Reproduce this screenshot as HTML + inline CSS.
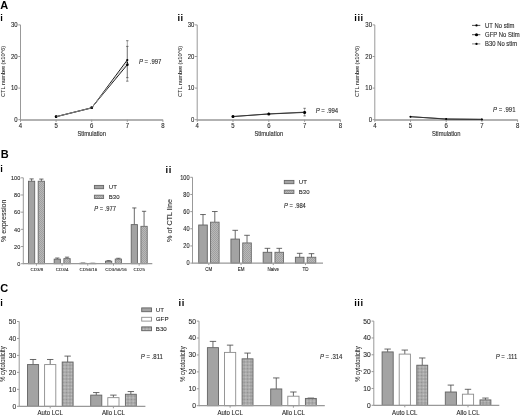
<!DOCTYPE html>
<html><head><meta charset="utf-8"><style>
html,body{margin:0;padding:0;background:#fff;}
svg{display:block;font-family:"Liberation Sans", sans-serif;will-change:transform;}
</style></head><body>
<svg width="520" height="416" viewBox="0 0 520 416">
<rect width="520" height="416" fill="#fff"/>
<g>
<defs>
<pattern id="hB" patternUnits="userSpaceOnUse" width="2" height="2"><rect width="2" height="2" fill="#b8b8b8"/><rect width="1" height="1" fill="#a0a0a0"/><rect x="1" y="1" width="1" height="1" fill="#a0a0a0"/></pattern>
<pattern id="hC" patternUnits="userSpaceOnUse" width="2" height="2" patternTransform="rotate(45)"><rect width="2" height="2" fill="#c6c6c6"/><rect width="1" height="1" fill="#8e8e8e"/><rect x="1" y="1" width="1" height="1" fill="#8e8e8e"/></pattern>
</defs>
<text font-size="11" text-anchor="start" font-weight="bold" fill="#000" transform="translate(0.30 8.90) scale(1 1.0)">A</text>
<text font-size="11" text-anchor="start" font-weight="bold" fill="#000" transform="translate(0.80 158.40) scale(1 1.0)">B</text>
<text font-size="11" text-anchor="start" font-weight="bold" fill="#000" transform="translate(0.20 292.40) scale(1 1.0)">C</text>
<text font-size="9.3" text-anchor="start" font-weight="bold" letter-spacing="0.55" fill="#000" transform="translate(0.30 20.60) scale(1 1.0)">i</text>
<line x1="20.50" y1="120.20" x2="20.50" y2="24.90" stroke="#999" stroke-width="1"/>
<line x1="20.50" y1="120.00" x2="162.90" y2="120.00" stroke="#999" stroke-width="1.4"/>
<line x1="18.30" y1="119.70" x2="20.50" y2="119.70" stroke="#999" stroke-width="1"/>
<text font-size="6.0" text-anchor="end" fill="#2a2a2a" stroke="#2a2a2a" stroke-width="0.1" transform="translate(17.70 121.80) scale(1 1.12)">0</text>
<line x1="18.30" y1="88.10" x2="20.50" y2="88.10" stroke="#999" stroke-width="1"/>
<text font-size="6.0" text-anchor="end" fill="#2a2a2a" stroke="#2a2a2a" stroke-width="0.1" transform="translate(17.70 90.20) scale(1 1.12)">10</text>
<line x1="18.30" y1="56.50" x2="20.50" y2="56.50" stroke="#999" stroke-width="1"/>
<text font-size="6.0" text-anchor="end" fill="#2a2a2a" stroke="#2a2a2a" stroke-width="0.1" transform="translate(17.70 58.60) scale(1 1.12)">20</text>
<line x1="18.30" y1="24.90" x2="20.50" y2="24.90" stroke="#999" stroke-width="1"/>
<text font-size="6.0" text-anchor="end" fill="#2a2a2a" stroke="#2a2a2a" stroke-width="0.1" transform="translate(17.70 27.00) scale(1 1.12)">30</text>
<line x1="20.50" y1="119.70" x2="20.50" y2="121.90" stroke="#999" stroke-width="1"/>
<text font-size="6.0" text-anchor="middle" fill="#2a2a2a" stroke="#2a2a2a" stroke-width="0.1" transform="translate(20.50 127.70) scale(1 1.12)">4</text>
<line x1="56.10" y1="119.70" x2="56.10" y2="121.90" stroke="#999" stroke-width="1"/>
<text font-size="6.0" text-anchor="middle" fill="#2a2a2a" stroke="#2a2a2a" stroke-width="0.1" transform="translate(56.10 127.70) scale(1 1.12)">5</text>
<line x1="91.70" y1="119.70" x2="91.70" y2="121.90" stroke="#999" stroke-width="1"/>
<text font-size="6.0" text-anchor="middle" fill="#2a2a2a" stroke="#2a2a2a" stroke-width="0.1" transform="translate(91.70 127.70) scale(1 1.12)">6</text>
<line x1="127.30" y1="119.70" x2="127.30" y2="121.90" stroke="#999" stroke-width="1"/>
<text font-size="6.0" text-anchor="middle" fill="#2a2a2a" stroke="#2a2a2a" stroke-width="0.1" transform="translate(127.30 127.70) scale(1 1.12)">7</text>
<line x1="162.90" y1="119.70" x2="162.90" y2="121.90" stroke="#999" stroke-width="1"/>
<text font-size="6.0" text-anchor="middle" fill="#2a2a2a" stroke="#2a2a2a" stroke-width="0.1" transform="translate(162.90 127.70) scale(1 1.12)">8</text>
<text font-size="5.8" text-anchor="middle" fill="#2a2a2a" stroke="#2a2a2a" stroke-width="0.1" transform="translate(91.70 136.40) scale(1 1.12)">Stimulation</text>
<text font-size="6.1" text-anchor="middle" fill="#2a2a2a" stroke="#2a2a2a" stroke-width="0.06" transform="translate(5.20 71.40) rotate(-90) scale(0.92 1)">CTL number (x10^6)</text>
<line x1="127.30" y1="40.70" x2="127.30" y2="81.15" stroke="#666" stroke-width="0.6"/>
<line x1="126.10" y1="40.70" x2="128.50" y2="40.70" stroke="#444" stroke-width="0.7"/>
<line x1="126.10" y1="81.15" x2="128.50" y2="81.15" stroke="#444" stroke-width="0.7"/>
<line x1="127.30" y1="46.39" x2="127.30" y2="77.67" stroke="#666" stroke-width="0.6"/>
<line x1="126.10" y1="46.39" x2="128.50" y2="46.39" stroke="#444" stroke-width="0.7"/>
<line x1="126.10" y1="77.67" x2="128.50" y2="77.67" stroke="#444" stroke-width="0.7"/>
<polyline points="56.10,116.70 91.70,107.69 127.30,64.72" fill="none" stroke="#000" stroke-width="0.9"/>
<circle cx="56.10" cy="116.70" r="1.4" fill="#000"/>
<circle cx="91.70" cy="107.69" r="1.4" fill="#000"/>
<circle cx="127.30" cy="64.72" r="1.4" fill="#000"/>
<polyline points="56.10,116.70 91.70,108.01 127.30,59.98" fill="none" stroke="#000" stroke-width="0.9"/>
<circle cx="56.10" cy="116.70" r="1.1" fill="#000"/>
<circle cx="91.70" cy="108.01" r="1.1" fill="#000"/>
<circle cx="127.30" cy="59.98" r="1.1" fill="#000"/>
<polyline points="56.10,116.70 91.70,107.85 127.30,62.50" fill="none" stroke="#bbb" stroke-width="0.7"/>
<circle cx="56.10" cy="116.70" r="0.7" fill="#000"/>
<circle cx="91.70" cy="107.85" r="0.7" fill="#000"/>
<circle cx="127.30" cy="62.50" r="0.7" fill="#000"/>
<text transform="translate(138.90 64.00) scale(1 1.15)" font-size="6.0" fill="#2a2a2a" stroke="#2a2a2a" stroke-width="0.1"><tspan font-style="italic">P</tspan> = .997</text>
<text font-size="9.3" text-anchor="start" font-weight="bold" letter-spacing="0.55" fill="#000" transform="translate(177.40 20.60) scale(1 1.0)">ii</text>
<line x1="197.20" y1="120.20" x2="197.20" y2="24.90" stroke="#999" stroke-width="1"/>
<line x1="197.20" y1="120.00" x2="340.40" y2="120.00" stroke="#999" stroke-width="1.4"/>
<line x1="195.00" y1="119.70" x2="197.20" y2="119.70" stroke="#999" stroke-width="1"/>
<text font-size="6.0" text-anchor="end" fill="#2a2a2a" stroke="#2a2a2a" stroke-width="0.1" transform="translate(194.40 121.80) scale(1 1.12)">0</text>
<line x1="195.00" y1="88.10" x2="197.20" y2="88.10" stroke="#999" stroke-width="1"/>
<text font-size="6.0" text-anchor="end" fill="#2a2a2a" stroke="#2a2a2a" stroke-width="0.1" transform="translate(194.40 90.20) scale(1 1.12)">10</text>
<line x1="195.00" y1="56.50" x2="197.20" y2="56.50" stroke="#999" stroke-width="1"/>
<text font-size="6.0" text-anchor="end" fill="#2a2a2a" stroke="#2a2a2a" stroke-width="0.1" transform="translate(194.40 58.60) scale(1 1.12)">20</text>
<line x1="195.00" y1="24.90" x2="197.20" y2="24.90" stroke="#999" stroke-width="1"/>
<text font-size="6.0" text-anchor="end" fill="#2a2a2a" stroke="#2a2a2a" stroke-width="0.1" transform="translate(194.40 27.00) scale(1 1.12)">30</text>
<line x1="197.20" y1="119.70" x2="197.20" y2="121.90" stroke="#999" stroke-width="1"/>
<text font-size="6.0" text-anchor="middle" fill="#2a2a2a" stroke="#2a2a2a" stroke-width="0.1" transform="translate(197.20 127.70) scale(1 1.12)">4</text>
<line x1="233.00" y1="119.70" x2="233.00" y2="121.90" stroke="#999" stroke-width="1"/>
<text font-size="6.0" text-anchor="middle" fill="#2a2a2a" stroke="#2a2a2a" stroke-width="0.1" transform="translate(233.00 127.70) scale(1 1.12)">5</text>
<line x1="268.80" y1="119.70" x2="268.80" y2="121.90" stroke="#999" stroke-width="1"/>
<text font-size="6.0" text-anchor="middle" fill="#2a2a2a" stroke="#2a2a2a" stroke-width="0.1" transform="translate(268.80 127.70) scale(1 1.12)">6</text>
<line x1="304.60" y1="119.70" x2="304.60" y2="121.90" stroke="#999" stroke-width="1"/>
<text font-size="6.0" text-anchor="middle" fill="#2a2a2a" stroke="#2a2a2a" stroke-width="0.1" transform="translate(304.60 127.70) scale(1 1.12)">7</text>
<line x1="340.40" y1="119.70" x2="340.40" y2="121.90" stroke="#999" stroke-width="1"/>
<text font-size="6.0" text-anchor="middle" fill="#2a2a2a" stroke="#2a2a2a" stroke-width="0.1" transform="translate(340.40 127.70) scale(1 1.12)">8</text>
<text font-size="5.8" text-anchor="middle" fill="#2a2a2a" stroke="#2a2a2a" stroke-width="0.1" transform="translate(268.80 136.40) scale(1 1.12)">Stimulation</text>
<text font-size="6.1" text-anchor="middle" fill="#2a2a2a" stroke="#2a2a2a" stroke-width="0.06" transform="translate(182.20 71.40) rotate(-90) scale(0.92 1)">CTL number (x10^6)</text>
<line x1="304.60" y1="108.32" x2="304.60" y2="115.91" stroke="#666" stroke-width="0.6"/>
<line x1="303.40" y1="108.32" x2="305.80" y2="108.32" stroke="#444" stroke-width="0.7"/>
<line x1="303.40" y1="115.91" x2="305.80" y2="115.91" stroke="#444" stroke-width="0.7"/>
<polyline points="233.00,116.54 268.80,114.01 304.60,112.43" fill="none" stroke="#000" stroke-width="0.8"/>
<circle cx="233.00" cy="116.54" r="1.55" fill="#000"/>
<circle cx="268.80" cy="114.01" r="1.55" fill="#000"/>
<circle cx="304.60" cy="112.43" r="1.55" fill="#000"/>
<polyline points="233.00,116.54 268.80,113.85 304.60,112.12" fill="none" stroke="#333" stroke-width="0.7"/>
<circle cx="233.00" cy="116.54" r="1.0" fill="#000"/>
<circle cx="268.80" cy="113.85" r="1.0" fill="#000"/>
<circle cx="304.60" cy="112.12" r="1.0" fill="#000"/>
<text transform="translate(315.70 113.10) scale(1 1.15)" font-size="6.0" fill="#2a2a2a" stroke="#2a2a2a" stroke-width="0.1"><tspan font-style="italic">P</tspan> = .994</text>
<text font-size="9.3" text-anchor="start" font-weight="bold" letter-spacing="0.55" fill="#000" transform="translate(354.30 20.60) scale(1 1.0)">iii</text>
<line x1="374.80" y1="120.20" x2="374.80" y2="24.90" stroke="#999" stroke-width="1"/>
<line x1="374.80" y1="120.00" x2="517.60" y2="120.00" stroke="#999" stroke-width="1.4"/>
<line x1="372.60" y1="119.70" x2="374.80" y2="119.70" stroke="#999" stroke-width="1"/>
<text font-size="6.0" text-anchor="end" fill="#2a2a2a" stroke="#2a2a2a" stroke-width="0.1" transform="translate(372.00 121.80) scale(1 1.12)">0</text>
<line x1="372.60" y1="88.10" x2="374.80" y2="88.10" stroke="#999" stroke-width="1"/>
<text font-size="6.0" text-anchor="end" fill="#2a2a2a" stroke="#2a2a2a" stroke-width="0.1" transform="translate(372.00 90.20) scale(1 1.12)">10</text>
<line x1="372.60" y1="56.50" x2="374.80" y2="56.50" stroke="#999" stroke-width="1"/>
<text font-size="6.0" text-anchor="end" fill="#2a2a2a" stroke="#2a2a2a" stroke-width="0.1" transform="translate(372.00 58.60) scale(1 1.12)">20</text>
<line x1="372.60" y1="24.90" x2="374.80" y2="24.90" stroke="#999" stroke-width="1"/>
<text font-size="6.0" text-anchor="end" fill="#2a2a2a" stroke="#2a2a2a" stroke-width="0.1" transform="translate(372.00 27.00) scale(1 1.12)">30</text>
<line x1="374.80" y1="119.70" x2="374.80" y2="121.90" stroke="#999" stroke-width="1"/>
<text font-size="6.0" text-anchor="middle" fill="#2a2a2a" stroke="#2a2a2a" stroke-width="0.1" transform="translate(374.80 127.70) scale(1 1.12)">4</text>
<line x1="410.50" y1="119.70" x2="410.50" y2="121.90" stroke="#999" stroke-width="1"/>
<text font-size="6.0" text-anchor="middle" fill="#2a2a2a" stroke="#2a2a2a" stroke-width="0.1" transform="translate(410.50 127.70) scale(1 1.12)">5</text>
<line x1="446.20" y1="119.70" x2="446.20" y2="121.90" stroke="#999" stroke-width="1"/>
<text font-size="6.0" text-anchor="middle" fill="#2a2a2a" stroke="#2a2a2a" stroke-width="0.1" transform="translate(446.20 127.70) scale(1 1.12)">6</text>
<line x1="481.90" y1="119.70" x2="481.90" y2="121.90" stroke="#999" stroke-width="1"/>
<text font-size="6.0" text-anchor="middle" fill="#2a2a2a" stroke="#2a2a2a" stroke-width="0.1" transform="translate(481.90 127.70) scale(1 1.12)">7</text>
<line x1="517.60" y1="119.70" x2="517.60" y2="121.90" stroke="#999" stroke-width="1"/>
<text font-size="6.0" text-anchor="middle" fill="#2a2a2a" stroke="#2a2a2a" stroke-width="0.1" transform="translate(517.60 127.70) scale(1 1.12)">8</text>
<text font-size="5.8" text-anchor="middle" fill="#2a2a2a" stroke="#2a2a2a" stroke-width="0.1" transform="translate(446.20 136.40) scale(1 1.12)">Stimulation</text>
<text font-size="6.1" text-anchor="middle" fill="#2a2a2a" stroke="#2a2a2a" stroke-width="0.06" transform="translate(359.30 71.40) rotate(-90) scale(0.92 1)">CTL number (x10^6)</text>
<polyline points="410.50,116.70 446.20,119.07 481.90,119.38" fill="none" stroke="#000" stroke-width="0.9"/>
<circle cx="410.50" cy="116.70" r="1.0" fill="#000"/>
<circle cx="446.20" cy="119.07" r="1.0" fill="#000"/>
<circle cx="481.90" cy="119.38" r="1.0" fill="#000"/>
<polyline points="410.50,116.70 446.20,118.91 481.90,119.32" fill="none" stroke="#444" stroke-width="0.7"/>
<circle cx="410.50" cy="116.70" r="0.8" fill="#000"/>
<circle cx="446.20" cy="118.91" r="0.8" fill="#000"/>
<circle cx="481.90" cy="119.32" r="0.8" fill="#000"/>
<text transform="translate(493.00 112.00) scale(1 1.15)" font-size="6.0" fill="#2a2a2a" stroke="#2a2a2a" stroke-width="0.1"><tspan font-style="italic">P</tspan> = .991</text>
<line x1="472.00" y1="25.40" x2="480.30" y2="25.40" stroke="#000" stroke-width="0.7"/>
<circle cx="476.5" cy="25.4" r="1.15" fill="#000"/>
<text font-size="5.9" text-anchor="start" fill="#2a2a2a" stroke="#2a2a2a" stroke-width="0.1" transform="translate(485.10 27.50) scale(1 1.12)">UT No stim</text>
<line x1="472.00" y1="34.70" x2="480.30" y2="34.70" stroke="#000" stroke-width="0.7"/>
<circle cx="476.5" cy="34.7" r="1.55" fill="#000"/>
<text font-size="5.9" text-anchor="start" fill="#2a2a2a" stroke="#2a2a2a" stroke-width="0.1" transform="translate(485.10 36.80) scale(1 1.12)">GFP No Stim</text>
<line x1="472.00" y1="43.90" x2="480.30" y2="43.90" stroke="#555" stroke-width="0.7"/>
<circle cx="476.5" cy="43.9" r="1.15" fill="#000"/>
<text font-size="5.9" text-anchor="start" fill="#2a2a2a" stroke="#2a2a2a" stroke-width="0.1" transform="translate(485.10 46.00) scale(1 1.12)">B30 No stim</text>
<text font-size="9.3" text-anchor="start" font-weight="bold" letter-spacing="0.55" fill="#000" transform="translate(0.30 172.00) scale(1 1.0)">i</text>
<line x1="23.30" y1="264.20" x2="23.30" y2="177.80" stroke="#999" stroke-width="1"/>
<line x1="21.10" y1="263.70" x2="23.30" y2="263.70" stroke="#999" stroke-width="1"/>
<text font-size="5.6" text-anchor="end" fill="#2a2a2a" stroke="#2a2a2a" stroke-width="0.1" transform="translate(20.30 265.92) scale(1 1.1)">0</text>
<line x1="21.10" y1="246.52" x2="23.30" y2="246.52" stroke="#999" stroke-width="1"/>
<text font-size="5.6" text-anchor="end" fill="#2a2a2a" stroke="#2a2a2a" stroke-width="0.1" transform="translate(20.30 248.74) scale(1 1.1)">20</text>
<line x1="21.10" y1="229.34" x2="23.30" y2="229.34" stroke="#999" stroke-width="1"/>
<text font-size="5.6" text-anchor="end" fill="#2a2a2a" stroke="#2a2a2a" stroke-width="0.1" transform="translate(20.30 231.56) scale(1 1.1)">40</text>
<line x1="21.10" y1="212.16" x2="23.30" y2="212.16" stroke="#999" stroke-width="1"/>
<text font-size="5.6" text-anchor="end" fill="#2a2a2a" stroke="#2a2a2a" stroke-width="0.1" transform="translate(20.30 214.38) scale(1 1.1)">60</text>
<line x1="21.10" y1="194.98" x2="23.30" y2="194.98" stroke="#999" stroke-width="1"/>
<text font-size="5.6" text-anchor="end" fill="#2a2a2a" stroke="#2a2a2a" stroke-width="0.1" transform="translate(20.30 197.20) scale(1 1.1)">80</text>
<line x1="21.10" y1="177.80" x2="23.30" y2="177.80" stroke="#999" stroke-width="1"/>
<text font-size="5.6" text-anchor="end" fill="#2a2a2a" stroke="#2a2a2a" stroke-width="0.1" transform="translate(20.30 180.02) scale(1 1.1)">100</text>
<line x1="36.40" y1="263.70" x2="36.40" y2="265.70" stroke="#999" stroke-width="1"/>
<line x1="62.08" y1="263.70" x2="62.08" y2="265.70" stroke="#999" stroke-width="1"/>
<line x1="87.76" y1="263.70" x2="87.76" y2="265.70" stroke="#999" stroke-width="1"/>
<line x1="113.44" y1="263.70" x2="113.44" y2="265.70" stroke="#999" stroke-width="1"/>
<line x1="139.12" y1="263.70" x2="139.12" y2="265.70" stroke="#999" stroke-width="1"/>
<text font-size="4.5" text-anchor="middle" fill="#2a2a2a" stroke="#2a2a2a" stroke-width="0.1" transform="translate(36.80 270.70) scale(1 0.95)">CD3/8</text>
<text font-size="4.5" text-anchor="middle" fill="#2a2a2a" stroke="#2a2a2a" stroke-width="0.1" transform="translate(62.18 270.70) scale(1 0.95)">CD3/4</text>
<text font-size="4.5" text-anchor="middle" fill="#2a2a2a" stroke="#2a2a2a" stroke-width="0.1" transform="translate(88.46 270.70) scale(1 0.95)">CD56/16</text>
<text font-size="4.5" text-anchor="middle" fill="#2a2a2a" stroke="#2a2a2a" stroke-width="0.1" transform="translate(116.04 270.70) scale(1 0.95)">CD3/56/16</text>
<text font-size="4.5" text-anchor="middle" fill="#2a2a2a" stroke="#2a2a2a" stroke-width="0.1" transform="translate(139.32 270.70) scale(1 0.95)">CD25</text>
<text font-size="7.1" text-anchor="middle" fill="#2a2a2a" stroke="#2a2a2a" stroke-width="0.08" transform="translate(6.00 220.80) rotate(-90) scale(1.0 1)">% expression</text>
<line x1="31.60" y1="181.24" x2="31.60" y2="178.92" stroke="#444" stroke-width="0.8"/>
<line x1="29.50" y1="178.92" x2="33.70" y2="178.92" stroke="#444" stroke-width="0.8"/>
<rect x="28.50" y="181.24" width="6.20" height="82.46" fill="#a3a3a3" stroke="#636363" stroke-width="0.9"/>
<line x1="41.35" y1="181.24" x2="41.35" y2="179.09" stroke="#444" stroke-width="0.8"/>
<line x1="39.22" y1="179.09" x2="43.48" y2="179.09" stroke="#444" stroke-width="0.8"/>
<rect x="38.20" y="181.24" width="6.30" height="82.46" fill="url(#hB)" stroke="#6a6a6a" stroke-width="0.9"/>
<line x1="57.28" y1="259.15" x2="57.28" y2="258.03" stroke="#444" stroke-width="0.8"/>
<line x1="55.18" y1="258.03" x2="59.38" y2="258.03" stroke="#444" stroke-width="0.8"/>
<rect x="54.18" y="259.15" width="6.20" height="4.55" fill="#a3a3a3" stroke="#636363" stroke-width="0.9"/>
<line x1="67.03" y1="258.63" x2="67.03" y2="257.17" stroke="#444" stroke-width="0.8"/>
<line x1="64.90" y1="257.17" x2="69.16" y2="257.17" stroke="#444" stroke-width="0.8"/>
<rect x="63.88" y="258.63" width="6.30" height="5.07" fill="url(#hB)" stroke="#6a6a6a" stroke-width="0.9"/>
<line x1="82.96" y1="263.27" x2="82.96" y2="263.10" stroke="#444" stroke-width="0.8"/>
<line x1="80.86" y1="263.10" x2="85.06" y2="263.10" stroke="#444" stroke-width="0.8"/>
<rect x="79.86" y="263.27" width="6.20" height="0.43" fill="#a3a3a3" stroke="#636363" stroke-width="0.9"/>
<line x1="92.71" y1="263.36" x2="92.71" y2="263.27" stroke="#444" stroke-width="0.8"/>
<line x1="90.58" y1="263.27" x2="94.84" y2="263.27" stroke="#444" stroke-width="0.8"/>
<rect x="89.56" y="263.36" width="6.30" height="0.34" fill="url(#hB)" stroke="#6a6a6a" stroke-width="0.9"/>
<line x1="108.64" y1="261.21" x2="108.64" y2="260.61" stroke="#444" stroke-width="0.8"/>
<line x1="106.54" y1="260.61" x2="110.74" y2="260.61" stroke="#444" stroke-width="0.8"/>
<rect x="105.54" y="261.21" width="6.20" height="2.49" fill="#a3a3a3" stroke="#636363" stroke-width="0.9"/>
<line x1="118.39" y1="259.06" x2="118.39" y2="258.29" stroke="#444" stroke-width="0.8"/>
<line x1="116.26" y1="258.29" x2="120.52" y2="258.29" stroke="#444" stroke-width="0.8"/>
<rect x="115.24" y="259.06" width="6.30" height="4.64" fill="url(#hB)" stroke="#6a6a6a" stroke-width="0.9"/>
<line x1="134.32" y1="224.62" x2="134.32" y2="207.95" stroke="#444" stroke-width="0.8"/>
<line x1="132.22" y1="207.95" x2="136.42" y2="207.95" stroke="#444" stroke-width="0.8"/>
<rect x="131.22" y="224.62" width="6.20" height="39.08" fill="#a3a3a3" stroke="#636363" stroke-width="0.9"/>
<line x1="144.07" y1="226.33" x2="144.07" y2="211.30" stroke="#444" stroke-width="0.8"/>
<line x1="141.94" y1="211.30" x2="146.20" y2="211.30" stroke="#444" stroke-width="0.8"/>
<rect x="140.92" y="226.33" width="6.30" height="37.37" fill="url(#hB)" stroke="#6a6a6a" stroke-width="0.9"/>
<line x1="23.30" y1="263.70" x2="152.30" y2="263.70" stroke="#999" stroke-width="1.2"/>
<rect x="94.40" y="185.40" width="9.20" height="3.30" fill="#a3a3a3" stroke="#636363" stroke-width="0.9"/>
<rect x="94.40" y="195.20" width="9.20" height="3.30" fill="url(#hB)" stroke="#6a6a6a" stroke-width="0.9"/>
<text font-size="6.0" text-anchor="start" fill="#2a2a2a" stroke="#2a2a2a" stroke-width="0.1" transform="translate(108.80 189.00) scale(1 1.0)">UT</text>
<text font-size="6.0" text-anchor="start" fill="#2a2a2a" stroke="#2a2a2a" stroke-width="0.1" transform="translate(108.80 198.80) scale(1 1.0)">B30</text>
<text transform="translate(94.20 210.60) scale(1 1.2)" font-size="5.8" fill="#2a2a2a" stroke="#2a2a2a" stroke-width="0.1"><tspan font-style="italic">P</tspan> = .977</text>
<text font-size="9.3" text-anchor="start" font-weight="bold" letter-spacing="0.55" fill="#000" transform="translate(165.60 172.60) scale(1 1.0)">ii</text>
<line x1="192.50" y1="263.60" x2="192.50" y2="177.30" stroke="#999" stroke-width="1"/>
<line x1="190.30" y1="263.10" x2="192.50" y2="263.10" stroke="#999" stroke-width="1"/>
<text font-size="5.6" text-anchor="end" fill="#2a2a2a" stroke="#2a2a2a" stroke-width="0.1" transform="translate(189.50 265.42) scale(1 1.15)">0</text>
<line x1="190.30" y1="245.94" x2="192.50" y2="245.94" stroke="#999" stroke-width="1"/>
<text font-size="5.6" text-anchor="end" fill="#2a2a2a" stroke="#2a2a2a" stroke-width="0.1" transform="translate(189.50 248.26) scale(1 1.15)">20</text>
<line x1="190.30" y1="228.78" x2="192.50" y2="228.78" stroke="#999" stroke-width="1"/>
<text font-size="5.6" text-anchor="end" fill="#2a2a2a" stroke="#2a2a2a" stroke-width="0.1" transform="translate(189.50 231.10) scale(1 1.15)">40</text>
<line x1="190.30" y1="211.62" x2="192.50" y2="211.62" stroke="#999" stroke-width="1"/>
<text font-size="5.6" text-anchor="end" fill="#2a2a2a" stroke="#2a2a2a" stroke-width="0.1" transform="translate(189.50 213.94) scale(1 1.15)">60</text>
<line x1="190.30" y1="194.46" x2="192.50" y2="194.46" stroke="#999" stroke-width="1"/>
<text font-size="5.6" text-anchor="end" fill="#2a2a2a" stroke="#2a2a2a" stroke-width="0.1" transform="translate(189.50 196.78) scale(1 1.15)">80</text>
<line x1="190.30" y1="177.30" x2="192.50" y2="177.30" stroke="#999" stroke-width="1"/>
<text font-size="5.6" text-anchor="end" fill="#2a2a2a" stroke="#2a2a2a" stroke-width="0.1" transform="translate(189.50 179.62) scale(1 1.15)">100</text>
<line x1="208.80" y1="263.10" x2="208.80" y2="265.10" stroke="#999" stroke-width="1"/>
<line x1="241.03" y1="263.10" x2="241.03" y2="265.10" stroke="#999" stroke-width="1"/>
<line x1="273.26" y1="263.10" x2="273.26" y2="265.10" stroke="#999" stroke-width="1"/>
<line x1="305.49" y1="263.10" x2="305.49" y2="265.10" stroke="#999" stroke-width="1"/>
<text font-size="4.5" text-anchor="middle" fill="#2a2a2a" stroke="#2a2a2a" stroke-width="0.1" transform="translate(208.80 270.60) scale(1 1.0)">CM</text>
<text font-size="4.5" text-anchor="middle" fill="#2a2a2a" stroke="#2a2a2a" stroke-width="0.1" transform="translate(241.03 270.60) scale(1 1.0)">EM</text>
<text font-size="4.5" text-anchor="middle" fill="#2a2a2a" stroke="#2a2a2a" stroke-width="0.1" transform="translate(273.26 270.60) scale(1 1.0)">Naive</text>
<text font-size="4.5" text-anchor="middle" fill="#2a2a2a" stroke="#2a2a2a" stroke-width="0.1" transform="translate(305.49 270.60) scale(1 1.0)">TD</text>
<text font-size="7.2" text-anchor="middle" fill="#2a2a2a" stroke="#2a2a2a" stroke-width="0.08" transform="translate(172.00 220.50) rotate(-90) scale(1.0 1)">% of CTL line</text>
<line x1="203.00" y1="225.00" x2="203.00" y2="214.54" stroke="#444" stroke-width="0.8"/>
<line x1="200.18" y1="214.54" x2="205.82" y2="214.54" stroke="#444" stroke-width="0.8"/>
<rect x="198.70" y="225.00" width="8.60" height="38.10" fill="#a3a3a3" stroke="#636363" stroke-width="0.9"/>
<line x1="214.80" y1="222.17" x2="214.80" y2="211.53" stroke="#444" stroke-width="0.8"/>
<line x1="211.98" y1="211.53" x2="217.62" y2="211.53" stroke="#444" stroke-width="0.8"/>
<rect x="210.50" y="222.17" width="8.60" height="40.93" fill="url(#hB)" stroke="#6a6a6a" stroke-width="0.9"/>
<line x1="235.23" y1="239.08" x2="235.23" y2="230.32" stroke="#444" stroke-width="0.8"/>
<line x1="232.41" y1="230.32" x2="238.05" y2="230.32" stroke="#444" stroke-width="0.8"/>
<rect x="230.93" y="239.08" width="8.60" height="24.02" fill="#a3a3a3" stroke="#636363" stroke-width="0.9"/>
<line x1="247.03" y1="242.94" x2="247.03" y2="235.30" stroke="#444" stroke-width="0.8"/>
<line x1="244.21" y1="235.30" x2="249.85" y2="235.30" stroke="#444" stroke-width="0.8"/>
<rect x="242.73" y="242.94" width="8.60" height="20.16" fill="url(#hB)" stroke="#6a6a6a" stroke-width="0.9"/>
<line x1="267.46" y1="252.29" x2="267.46" y2="248.34" stroke="#444" stroke-width="0.8"/>
<line x1="264.64" y1="248.34" x2="270.28" y2="248.34" stroke="#444" stroke-width="0.8"/>
<rect x="263.16" y="252.29" width="8.60" height="10.81" fill="#a3a3a3" stroke="#636363" stroke-width="0.9"/>
<line x1="279.26" y1="252.29" x2="279.26" y2="248.34" stroke="#444" stroke-width="0.8"/>
<line x1="276.44" y1="248.34" x2="282.08" y2="248.34" stroke="#444" stroke-width="0.8"/>
<rect x="274.96" y="252.29" width="8.60" height="10.81" fill="url(#hB)" stroke="#6a6a6a" stroke-width="0.9"/>
<line x1="299.69" y1="257.27" x2="299.69" y2="253.32" stroke="#444" stroke-width="0.8"/>
<line x1="296.87" y1="253.32" x2="302.51" y2="253.32" stroke="#444" stroke-width="0.8"/>
<rect x="295.39" y="257.27" width="8.60" height="5.83" fill="#a3a3a3" stroke="#636363" stroke-width="0.9"/>
<line x1="311.49" y1="257.27" x2="311.49" y2="253.66" stroke="#444" stroke-width="0.8"/>
<line x1="308.67" y1="253.66" x2="314.31" y2="253.66" stroke="#444" stroke-width="0.8"/>
<rect x="307.19" y="257.27" width="8.60" height="5.83" fill="url(#hB)" stroke="#6a6a6a" stroke-width="0.9"/>
<line x1="192.50" y1="263.10" x2="323.00" y2="263.10" stroke="#999" stroke-width="1.2"/>
<rect x="284.30" y="180.40" width="9.60" height="3.30" fill="#a3a3a3" stroke="#636363" stroke-width="0.9"/>
<rect x="284.30" y="190.20" width="9.60" height="3.30" fill="url(#hB)" stroke="#6a6a6a" stroke-width="0.9"/>
<text font-size="6.0" text-anchor="start" fill="#2a2a2a" stroke="#2a2a2a" stroke-width="0.1" transform="translate(298.80 184.00) scale(1 1.0)">UT</text>
<text font-size="6.0" text-anchor="start" fill="#2a2a2a" stroke="#2a2a2a" stroke-width="0.1" transform="translate(298.80 194.00) scale(1 1.0)">B30</text>
<text transform="translate(284.10 208.40) scale(1 1.2)" font-size="5.8" fill="#2a2a2a" stroke="#2a2a2a" stroke-width="0.1"><tspan font-style="italic">P</tspan> = .984</text>
<text font-size="9.3" text-anchor="start" font-weight="bold" letter-spacing="0.55" fill="#000" transform="translate(0.30 305.70) scale(1 1.0)">i</text>
<line x1="19.20" y1="406.80" x2="19.20" y2="321.50" stroke="#999" stroke-width="1"/>
<line x1="17.00" y1="406.30" x2="19.20" y2="406.30" stroke="#999" stroke-width="1"/>
<text font-size="6.6" text-anchor="end" fill="#2a2a2a" stroke="#2a2a2a" stroke-width="0.1" transform="translate(16.20 408.68) scale(1 1.0)">0</text>
<line x1="17.00" y1="389.34" x2="19.20" y2="389.34" stroke="#999" stroke-width="1"/>
<text font-size="6.6" text-anchor="end" fill="#2a2a2a" stroke="#2a2a2a" stroke-width="0.1" transform="translate(16.20 391.72) scale(1 1.0)">10</text>
<line x1="17.00" y1="372.38" x2="19.20" y2="372.38" stroke="#999" stroke-width="1"/>
<text font-size="6.6" text-anchor="end" fill="#2a2a2a" stroke="#2a2a2a" stroke-width="0.1" transform="translate(16.20 374.76) scale(1 1.0)">20</text>
<line x1="17.00" y1="355.42" x2="19.20" y2="355.42" stroke="#999" stroke-width="1"/>
<text font-size="6.6" text-anchor="end" fill="#2a2a2a" stroke="#2a2a2a" stroke-width="0.1" transform="translate(16.20 357.80) scale(1 1.0)">30</text>
<line x1="17.00" y1="338.46" x2="19.20" y2="338.46" stroke="#999" stroke-width="1"/>
<text font-size="6.6" text-anchor="end" fill="#2a2a2a" stroke="#2a2a2a" stroke-width="0.1" transform="translate(16.20 340.84) scale(1 1.0)">40</text>
<line x1="17.00" y1="321.50" x2="19.20" y2="321.50" stroke="#999" stroke-width="1"/>
<text font-size="6.6" text-anchor="end" fill="#2a2a2a" stroke="#2a2a2a" stroke-width="0.1" transform="translate(16.20 323.88) scale(1 1.0)">50</text>
<line x1="50.20" y1="406.30" x2="50.20" y2="408.30" stroke="#999" stroke-width="1"/>
<line x1="113.40" y1="406.30" x2="113.40" y2="408.30" stroke="#999" stroke-width="1"/>
<text font-size="6.1" text-anchor="middle" fill="#2a2a2a" stroke="#2a2a2a" stroke-width="0.1" transform="translate(50.20 414.50) scale(1 1.05)">Auto LCL</text>
<text font-size="6.1" text-anchor="middle" fill="#2a2a2a" stroke="#2a2a2a" stroke-width="0.1" transform="translate(113.40 414.50) scale(1 1.05)">Allo LCL</text>
<text font-size="6.3" text-anchor="middle" fill="#2a2a2a" stroke="#2a2a2a" stroke-width="0.06" transform="translate(5.00 364.10) rotate(-90) scale(0.93 1)">% cytotoxicity</text>
<line x1="33.05" y1="364.58" x2="33.05" y2="359.49" stroke="#444" stroke-width="0.8"/>
<line x1="29.85" y1="359.49" x2="36.25" y2="359.49" stroke="#444" stroke-width="0.8"/>
<rect x="27.50" y="364.58" width="11.10" height="41.72" fill="#a3a3a3" stroke="#636363" stroke-width="0.9"/>
<line x1="50.20" y1="364.58" x2="50.20" y2="359.49" stroke="#444" stroke-width="0.8"/>
<line x1="47.00" y1="359.49" x2="53.40" y2="359.49" stroke="#444" stroke-width="0.8"/>
<rect x="44.60" y="364.58" width="11.20" height="41.72" fill="#fff" stroke="#8c8c8c" stroke-width="0.9"/>
<line x1="67.65" y1="362.03" x2="67.65" y2="356.10" stroke="#444" stroke-width="0.8"/>
<line x1="64.45" y1="356.10" x2="70.85" y2="356.10" stroke="#444" stroke-width="0.8"/>
<rect x="62.20" y="362.03" width="10.90" height="44.27" fill="url(#hC)" stroke="#616161" stroke-width="0.9"/>
<line x1="96.25" y1="395.11" x2="96.25" y2="392.56" stroke="#444" stroke-width="0.8"/>
<line x1="93.05" y1="392.56" x2="99.45" y2="392.56" stroke="#444" stroke-width="0.8"/>
<rect x="90.70" y="395.11" width="11.10" height="11.19" fill="#a3a3a3" stroke="#636363" stroke-width="0.9"/>
<line x1="113.40" y1="397.65" x2="113.40" y2="395.11" stroke="#444" stroke-width="0.8"/>
<line x1="110.20" y1="395.11" x2="116.60" y2="395.11" stroke="#444" stroke-width="0.8"/>
<rect x="107.80" y="397.65" width="11.20" height="8.65" fill="#fff" stroke="#8c8c8c" stroke-width="0.9"/>
<line x1="130.85" y1="394.26" x2="130.85" y2="391.54" stroke="#444" stroke-width="0.8"/>
<line x1="127.65" y1="391.54" x2="134.05" y2="391.54" stroke="#444" stroke-width="0.8"/>
<rect x="125.40" y="394.26" width="10.90" height="12.04" fill="url(#hC)" stroke="#616161" stroke-width="0.9"/>
<line x1="19.20" y1="406.30" x2="145.40" y2="406.30" stroke="#999" stroke-width="1.2"/>
<text transform="translate(140.80 358.70) scale(1 1.05)" font-size="6.0" fill="#2a2a2a" stroke="#2a2a2a" stroke-width="0.1"><tspan font-style="italic">P</tspan> = .811</text>
<text font-size="9.3" text-anchor="start" font-weight="bold" letter-spacing="0.55" fill="#000" transform="translate(178.60 305.70) scale(1 1.0)">ii</text>
<line x1="199.00" y1="406.20" x2="199.00" y2="321.10" stroke="#999" stroke-width="1"/>
<line x1="196.80" y1="405.70" x2="199.00" y2="405.70" stroke="#999" stroke-width="1"/>
<text font-size="6.7" text-anchor="end" fill="#2a2a2a" stroke="#2a2a2a" stroke-width="0.1" transform="translate(196.00 408.11) scale(1 1.0)">0</text>
<line x1="196.80" y1="388.78" x2="199.00" y2="388.78" stroke="#999" stroke-width="1"/>
<text font-size="6.7" text-anchor="end" fill="#2a2a2a" stroke="#2a2a2a" stroke-width="0.1" transform="translate(196.00 391.19) scale(1 1.0)">10</text>
<line x1="196.80" y1="371.86" x2="199.00" y2="371.86" stroke="#999" stroke-width="1"/>
<text font-size="6.7" text-anchor="end" fill="#2a2a2a" stroke="#2a2a2a" stroke-width="0.1" transform="translate(196.00 374.27) scale(1 1.0)">20</text>
<line x1="196.80" y1="354.94" x2="199.00" y2="354.94" stroke="#999" stroke-width="1"/>
<text font-size="6.7" text-anchor="end" fill="#2a2a2a" stroke="#2a2a2a" stroke-width="0.1" transform="translate(196.00 357.35) scale(1 1.0)">30</text>
<line x1="196.80" y1="338.02" x2="199.00" y2="338.02" stroke="#999" stroke-width="1"/>
<text font-size="6.7" text-anchor="end" fill="#2a2a2a" stroke="#2a2a2a" stroke-width="0.1" transform="translate(196.00 340.43) scale(1 1.0)">40</text>
<line x1="196.80" y1="321.10" x2="199.00" y2="321.10" stroke="#999" stroke-width="1"/>
<text font-size="6.7" text-anchor="end" fill="#2a2a2a" stroke="#2a2a2a" stroke-width="0.1" transform="translate(196.00 323.51) scale(1 1.0)">50</text>
<line x1="230.10" y1="405.70" x2="230.10" y2="407.70" stroke="#999" stroke-width="1"/>
<line x1="293.40" y1="405.70" x2="293.40" y2="407.70" stroke="#999" stroke-width="1"/>
<text font-size="6.1" text-anchor="middle" fill="#2a2a2a" stroke="#2a2a2a" stroke-width="0.1" transform="translate(230.10 414.50) scale(1 1.05)">Auto LCL</text>
<text font-size="6.1" text-anchor="middle" fill="#2a2a2a" stroke="#2a2a2a" stroke-width="0.1" transform="translate(293.40 414.50) scale(1 1.05)">Allo LCL</text>
<text font-size="6.3" text-anchor="middle" fill="#2a2a2a" stroke="#2a2a2a" stroke-width="0.06" transform="translate(185.20 364.10) rotate(-90) scale(0.93 1)">% cytotoxicity</text>
<line x1="212.95" y1="347.66" x2="212.95" y2="341.40" stroke="#444" stroke-width="0.8"/>
<line x1="209.75" y1="341.40" x2="216.15" y2="341.40" stroke="#444" stroke-width="0.8"/>
<rect x="207.40" y="347.66" width="11.10" height="58.04" fill="#a3a3a3" stroke="#636363" stroke-width="0.9"/>
<line x1="230.10" y1="352.40" x2="230.10" y2="345.13" stroke="#444" stroke-width="0.8"/>
<line x1="226.90" y1="345.13" x2="233.30" y2="345.13" stroke="#444" stroke-width="0.8"/>
<rect x="224.50" y="352.40" width="11.20" height="53.30" fill="#fff" stroke="#8c8c8c" stroke-width="0.9"/>
<line x1="247.55" y1="358.83" x2="247.55" y2="353.08" stroke="#444" stroke-width="0.8"/>
<line x1="244.35" y1="353.08" x2="250.75" y2="353.08" stroke="#444" stroke-width="0.8"/>
<rect x="242.10" y="358.83" width="10.90" height="46.87" fill="url(#hC)" stroke="#616161" stroke-width="0.9"/>
<line x1="276.25" y1="388.95" x2="276.25" y2="377.95" stroke="#444" stroke-width="0.8"/>
<line x1="273.05" y1="377.95" x2="279.45" y2="377.95" stroke="#444" stroke-width="0.8"/>
<rect x="270.70" y="388.95" width="11.10" height="16.75" fill="#a3a3a3" stroke="#636363" stroke-width="0.9"/>
<line x1="293.40" y1="396.22" x2="293.40" y2="391.99" stroke="#444" stroke-width="0.8"/>
<line x1="290.20" y1="391.99" x2="296.60" y2="391.99" stroke="#444" stroke-width="0.8"/>
<rect x="287.80" y="396.22" width="11.20" height="9.48" fill="#fff" stroke="#8c8c8c" stroke-width="0.9"/>
<line x1="310.85" y1="398.42" x2="310.85" y2="398.09" stroke="#444" stroke-width="0.8"/>
<line x1="307.65" y1="398.09" x2="314.05" y2="398.09" stroke="#444" stroke-width="0.8"/>
<rect x="305.40" y="398.42" width="10.90" height="7.28" fill="url(#hC)" stroke="#616161" stroke-width="0.9"/>
<line x1="199.00" y1="405.70" x2="324.80" y2="405.70" stroke="#999" stroke-width="1.2"/>
<text transform="translate(319.90 359.00) scale(1 1.05)" font-size="6.0" fill="#2a2a2a" stroke="#2a2a2a" stroke-width="0.1"><tspan font-style="italic">P</tspan> = .314</text>
<text font-size="9.3" text-anchor="start" font-weight="bold" letter-spacing="0.55" fill="#000" transform="translate(354.20 305.70) scale(1 1.0)">iii</text>
<line x1="373.80" y1="405.80" x2="373.80" y2="321.10" stroke="#999" stroke-width="1"/>
<line x1="371.60" y1="405.30" x2="373.80" y2="405.30" stroke="#999" stroke-width="1"/>
<text font-size="6.7" text-anchor="end" fill="#2a2a2a" stroke="#2a2a2a" stroke-width="0.1" transform="translate(370.80 407.71) scale(1 1.0)">0</text>
<line x1="371.60" y1="388.46" x2="373.80" y2="388.46" stroke="#999" stroke-width="1"/>
<text font-size="6.7" text-anchor="end" fill="#2a2a2a" stroke="#2a2a2a" stroke-width="0.1" transform="translate(370.80 390.87) scale(1 1.0)">10</text>
<line x1="371.60" y1="371.62" x2="373.80" y2="371.62" stroke="#999" stroke-width="1"/>
<text font-size="6.7" text-anchor="end" fill="#2a2a2a" stroke="#2a2a2a" stroke-width="0.1" transform="translate(370.80 374.03) scale(1 1.0)">20</text>
<line x1="371.60" y1="354.78" x2="373.80" y2="354.78" stroke="#999" stroke-width="1"/>
<text font-size="6.7" text-anchor="end" fill="#2a2a2a" stroke="#2a2a2a" stroke-width="0.1" transform="translate(370.80 357.19) scale(1 1.0)">30</text>
<line x1="371.60" y1="337.94" x2="373.80" y2="337.94" stroke="#999" stroke-width="1"/>
<text font-size="6.7" text-anchor="end" fill="#2a2a2a" stroke="#2a2a2a" stroke-width="0.1" transform="translate(370.80 340.35) scale(1 1.0)">40</text>
<line x1="371.60" y1="321.10" x2="373.80" y2="321.10" stroke="#999" stroke-width="1"/>
<text font-size="6.7" text-anchor="end" fill="#2a2a2a" stroke="#2a2a2a" stroke-width="0.1" transform="translate(370.80 323.51) scale(1 1.0)">50</text>
<line x1="404.80" y1="405.30" x2="404.80" y2="407.30" stroke="#999" stroke-width="1"/>
<line x1="468.00" y1="405.30" x2="468.00" y2="407.30" stroke="#999" stroke-width="1"/>
<text font-size="6.1" text-anchor="middle" fill="#2a2a2a" stroke="#2a2a2a" stroke-width="0.1" transform="translate(404.80 414.50) scale(1 1.05)">Auto LCL</text>
<text font-size="6.1" text-anchor="middle" fill="#2a2a2a" stroke="#2a2a2a" stroke-width="0.1" transform="translate(468.00 414.50) scale(1 1.05)">Allo LCL</text>
<text font-size="6.3" text-anchor="middle" fill="#2a2a2a" stroke="#2a2a2a" stroke-width="0.06" transform="translate(359.80 364.10) rotate(-90) scale(0.93 1)">% cytotoxicity</text>
<line x1="387.65" y1="351.92" x2="387.65" y2="349.05" stroke="#444" stroke-width="0.8"/>
<line x1="384.45" y1="349.05" x2="390.85" y2="349.05" stroke="#444" stroke-width="0.8"/>
<rect x="382.10" y="351.92" width="11.10" height="53.38" fill="#a3a3a3" stroke="#636363" stroke-width="0.9"/>
<line x1="404.80" y1="354.11" x2="404.80" y2="350.06" stroke="#444" stroke-width="0.8"/>
<line x1="401.60" y1="350.06" x2="408.00" y2="350.06" stroke="#444" stroke-width="0.8"/>
<rect x="399.20" y="354.11" width="11.20" height="51.19" fill="#fff" stroke="#8c8c8c" stroke-width="0.9"/>
<line x1="422.25" y1="365.22" x2="422.25" y2="357.98" stroke="#444" stroke-width="0.8"/>
<line x1="419.05" y1="357.98" x2="425.45" y2="357.98" stroke="#444" stroke-width="0.8"/>
<rect x="416.80" y="365.22" width="10.90" height="40.08" fill="url(#hC)" stroke="#616161" stroke-width="0.9"/>
<line x1="450.85" y1="392.00" x2="450.85" y2="385.09" stroke="#444" stroke-width="0.8"/>
<line x1="447.65" y1="385.09" x2="454.05" y2="385.09" stroke="#444" stroke-width="0.8"/>
<rect x="445.30" y="392.00" width="11.10" height="13.30" fill="#a3a3a3" stroke="#636363" stroke-width="0.9"/>
<line x1="468.00" y1="394.19" x2="468.00" y2="389.30" stroke="#444" stroke-width="0.8"/>
<line x1="464.80" y1="389.30" x2="471.20" y2="389.30" stroke="#444" stroke-width="0.8"/>
<rect x="462.40" y="394.19" width="11.20" height="11.11" fill="#fff" stroke="#8c8c8c" stroke-width="0.9"/>
<line x1="485.45" y1="399.91" x2="485.45" y2="398.06" stroke="#444" stroke-width="0.8"/>
<line x1="482.25" y1="398.06" x2="488.65" y2="398.06" stroke="#444" stroke-width="0.8"/>
<rect x="480.00" y="399.91" width="10.90" height="5.39" fill="url(#hC)" stroke="#616161" stroke-width="0.9"/>
<line x1="373.80" y1="405.30" x2="499.30" y2="405.30" stroke="#999" stroke-width="1.2"/>
<text transform="translate(495.70 359.00) scale(1 1.05)" font-size="6.0" fill="#2a2a2a" stroke="#2a2a2a" stroke-width="0.1"><tspan font-style="italic">P</tspan> = .111</text>
<rect x="141.70" y="307.90" width="9.80" height="3.80" fill="#a3a3a3" stroke="#636363" stroke-width="0.9"/>
<text font-size="6.2" text-anchor="start" fill="#2a2a2a" stroke="#2a2a2a" stroke-width="0.1" transform="translate(155.80 312.00) scale(1 1.0)">UT</text>
<rect x="141.70" y="317.30" width="9.80" height="3.80" fill="#fff" stroke="#8c8c8c" stroke-width="0.9"/>
<text font-size="6.2" text-anchor="start" fill="#2a2a2a" stroke="#2a2a2a" stroke-width="0.1" transform="translate(155.80 321.40) scale(1 1.0)">GFP</text>
<rect x="141.70" y="326.90" width="9.80" height="3.80" fill="url(#hC)" stroke="#616161" stroke-width="0.9"/>
<text font-size="6.2" text-anchor="start" fill="#2a2a2a" stroke="#2a2a2a" stroke-width="0.1" transform="translate(155.80 331.00) scale(1 1.0)">B30</text>
</g>
</svg>
</body></html>
